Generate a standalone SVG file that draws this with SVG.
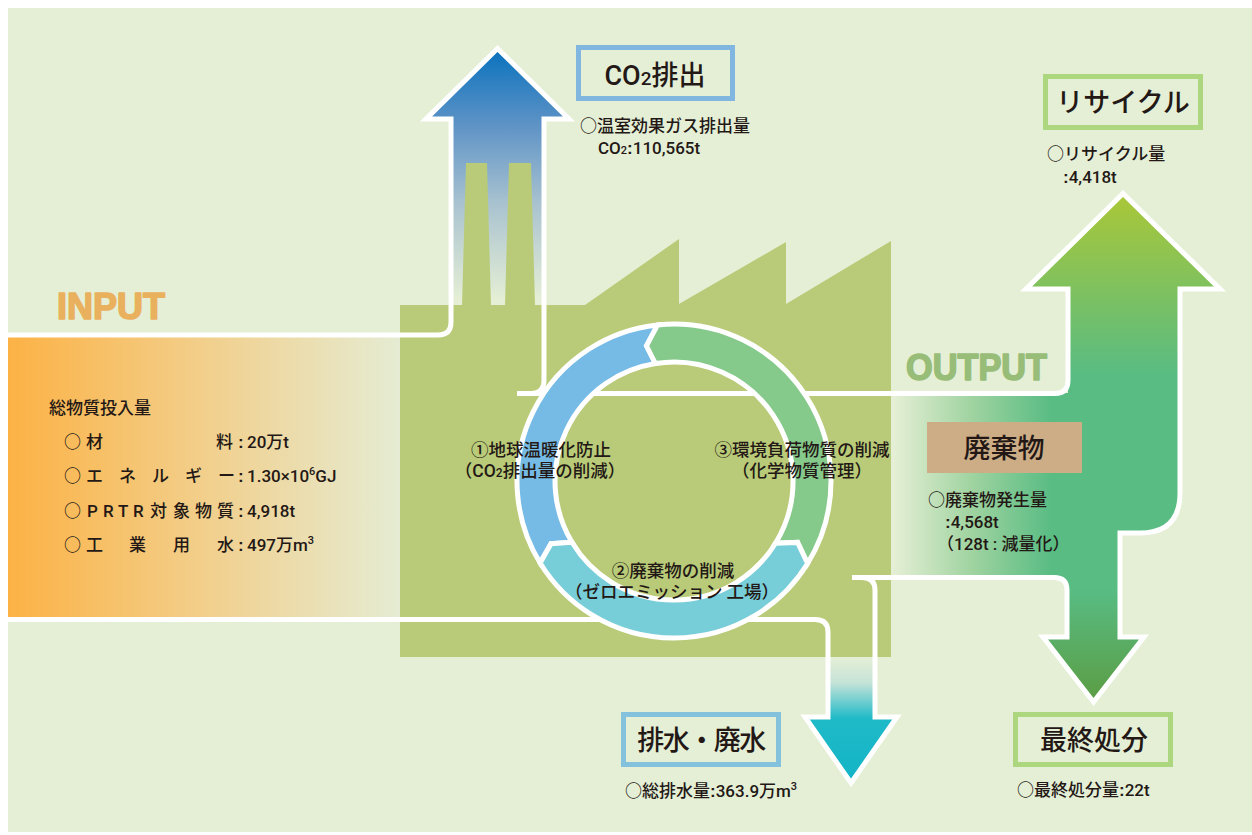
<svg xmlns="http://www.w3.org/2000/svg" width="1252" height="835" viewBox="0 0 1252 835">
  <defs>
    <linearGradient id="gInput" gradientUnits="userSpaceOnUse" x1="8" y1="0" x2="400" y2="0">
      <stop offset="0" stop-color="#fcb245"/>
      <stop offset="0.45" stop-color="#f3cc84"/>
      <stop offset="1" stop-color="#e5ecd3"/>
    </linearGradient>
    <linearGradient id="gCO2" gradientUnits="userSpaceOnUse" x1="0" y1="50" x2="0" y2="300">
      <stop offset="0" stop-color="#0a72bd"/>
      <stop offset="0.3" stop-color="#5e93c6"/>
      <stop offset="0.62" stop-color="#aac3d0"/>
      <stop offset="1" stop-color="#e5efd5"/>
    </linearGradient>
    <linearGradient id="gRecycle" gradientUnits="userSpaceOnUse" x1="0" y1="196" x2="0" y2="376">
      <stop offset="0" stop-color="#a9c738"/>
      <stop offset="1" stop-color="#58bc83"/>
    </linearGradient>
    <linearGradient id="gBand" gradientUnits="userSpaceOnUse" x1="893" y1="0" x2="1052" y2="0">
      <stop offset="0" stop-color="#e5efd5"/>
      <stop offset="0.5" stop-color="#9fd3a0"/>
      <stop offset="1" stop-color="#58bc83"/>
    </linearGradient>
    <linearGradient id="gLandfill" gradientUnits="userSpaceOnUse" x1="0" y1="590" x2="0" y2="700">
      <stop offset="0" stop-color="#58bc83"/>
      <stop offset="1" stop-color="#5b9d44"/>
    </linearGradient>
    <linearGradient id="gDrain" gradientUnits="userSpaceOnUse" x1="0" y1="657" x2="0" y2="785">
      <stop offset="0" stop-color="#e5efd5"/>
      <stop offset="0.2" stop-color="#c6e3d8"/>
      <stop offset="0.48" stop-color="#1fbac8"/>
      <stop offset="1" stop-color="#12b4c6"/>
    </linearGradient>
  </defs>
  <style>
    .jp{font-family:"Noto Sans CJK JP","Noto Sans CJK SC",sans-serif;fill:#231815}
    .la{font-family:Roboto,"Liberation Sans",Arial,sans-serif;font-weight:500}
    .t17{font-size:17px;font-weight:500}
    .t175{font-size:17.5px;font-weight:500}
    .title{font-size:27px;font-weight:500}
    .colon{font-family:"Liberation Sans",Arial,sans-serif;font-weight:bold}
    .line{fill:none;stroke:#ffffff;stroke-width:5;stroke-linejoin:miter}
    .seg{stroke:#ffffff;stroke-width:5;stroke-linejoin:miter}
    .boxBlue{fill:#e5efd5;stroke:#80b6df;stroke-width:5}
    .boxTeal{fill:#e5efd5;stroke:#84c1dc;stroke-width:5}
    .boxGreen{fill:#e5efd5;stroke:#add77f;stroke-width:5}
    .big{font-family:"Liberation Sans",Arial,sans-serif;font-weight:bold;font-size:36px;stroke-width:1.6;stroke-linejoin:round}
  </style>

  <!-- backdrop -->
  <rect x="8" y="8" width="1244" height="824" fill="#e5efd5"/>

  <!-- input stream band -->
  <rect x="8" y="337" width="392" height="281" fill="url(#gInput)"/>

  <!-- CO2 arrow body -->
  <path d="M451,335 V119 H426 L497.5,48.5 L569,119 H544 V335 Z" fill="url(#gCO2)"/>

  <!-- factory silhouette -->
  <g id="factory" fill="#b9cb78">
    <path d="M400,305 H585 L679,239 V304 L786,242 V304 L891,241 V657 H400 Z"/>
    <polygon points="466,163 487,163 491,306 462,306"/>
    <polygon points="509,163 531,163 535,306 505,306"/>
  </g>

  <!-- output stream fills -->
  <g id="output-fills">
    <path d="M891,393 H1070 V590 H1067 Q1067,577 1054,577 H891 Z" fill="url(#gBand)"/>
    <path d="M1068,395 V289 H1026 L1123,193.5 L1220,289 H1180 V493 Q1180,533 1140,533 H1120 V592 H1068 Z" fill="url(#gRecycle)"/>
    <path d="M1067,588 H1120 V637 H1144 L1093.5,702 L1043,637 H1067 Z" fill="url(#gLandfill)"/>
    <path d="M828,657 H875 V717 H897 L851,783 L805,717 H828 Z" fill="url(#gDrain)"/>
  </g>

  <!-- flow outlines -->
  <g id="connectors">
    <path class="line" d="M8,335 H438 Q451,335 451,322 V119 H426 L497.5,48.5 L569,119 H544 V380 Q544,393.5 531,393.5 H517"/>
    <path class="line" d="M517,393.5 H1055 Q1068,393.5 1068,380 V289 H1026 L1123,193.5 L1220,289 H1180 V493 Q1180,533 1140,533 H1120 V637 H1144 L1093.5,702 L1043,637 H1067 V590 Q1067,577.5 1054,577.5 H852"/>
    <path class="line" d="M852,577.5 H862 Q875,577.5 875,590 V717 H897 L851,783 L805,717 H828 V632 Q828,619.5 815,619.5 H8"/>
  </g>

  <!-- improvement cycle ring -->
  <g id="ring">
    <path class="seg" fill="#75bbe6" d="M540.1,563 A157,157 0 0 1 657.6,324.9 L646.5,345.8 L655.4,363.5 A119,119 0 0 0 572,542.3 L551,543.7 Z"/>
    <path class="seg" fill="#85c98b" d="M657.6,324.9 A157,157 0 0 1 807.6,563.5 L797.6,542.4 L775.5,543.2 A119,119 0 0 0 655.4,363.5 L646.5,345.8 Z"/>
    <path class="seg" fill="#77cdd8" d="M807.6,563.5 A157,157 0 0 1 540.1,563 L551,543.7 L572,542.3 A119,119 0 0 0 775.5,543.2 L797.6,542.4 Z"/>
  </g>

  <g id="ring-labels" class="jp t175" text-anchor="middle">
    <text><tspan x="541" y="456">①地球温暖化防止</tspan><tspan x="540" y="477">（<tspan class="la">CO</tspan><tspan class="la" font-size="12">2</tspan>排出量の削減）</tspan></text>
    <text><tspan x="802" y="456">③環境負荷物質の削減</tspan><tspan x="802" y="477">（化学物質管理）</tspan></text>
    <text><tspan x="673" y="577">②廃棄物の削減</tspan><tspan x="672" y="598">（ゼロエミッション 工場）</tspan></text>
  </g>

  <!-- headings -->
  <text x="57" y="319" class="big" fill="#e9b15e" stroke="#e9b15e" textLength="108" lengthAdjust="spacingAndGlyphs">INPUT</text>
  <text x="906" y="380" class="big" fill="#98bd78" stroke="#98bd78" textLength="141" lengthAdjust="spacingAndGlyphs">OUTPUT</text>

  <!-- input quantities -->
  <g id="input" class="jp t17">
    <text x="49" y="414">総物質投入量</text>
    <text y="448"><tspan x="64">○</tspan><tspan x="86">材</tspan><tspan x="216">料</tspan><tspan x="238" class="colon">:</tspan><tspan x="247" class="la">20</tspan>万<tspan class="la">t</tspan></text>
    <text y="482"><tspan x="64">○</tspan><tspan x="86">エ</tspan><tspan x="119">ネ</tspan><tspan x="152">ル</tspan><tspan x="185">ギ</tspan><tspan x="218">ー</tspan><tspan x="238" class="colon">:</tspan><tspan x="247" class="la">1.30×10<tspan font-size="11" dy="-7">6</tspan><tspan dy="7">GJ</tspan></tspan></text>
    <text y="517"><tspan x="64">○</tspan><tspan x="87 103 118 133" class="la" font-weight="bold">PRTR</tspan><tspan x="150">対</tspan><tspan x="173">象</tspan><tspan x="195">物</tspan><tspan x="217">質</tspan><tspan x="238" class="colon">:</tspan><tspan x="247" class="la">4,918t</tspan></text>
    <text y="551"><tspan x="64">○</tspan><tspan x="86">工</tspan><tspan x="129">業</tspan><tspan x="173">用</tspan><tspan x="217">水</tspan><tspan x="238" class="colon">:</tspan><tspan x="247" class="la">497</tspan>万<tspan class="la">m<tspan font-size="11" dy="-7">3</tspan></tspan></text>
  </g>

  <!-- CO2 emission -->
  <g id="co2">
    <rect class="boxBlue" x="578.5" y="47.5" width="154" height="51"/>
    <text x="655" y="85" text-anchor="middle" class="jp title"><tspan class="la">CO</tspan><tspan class="la" font-size="19">2</tspan>排出</text>
    <text x="580" y="132" class="jp t17">○温室効果ガス排出量</text>
    <text x="598" y="154" class="jp t17"><tspan class="la">CO</tspan><tspan class="la" font-size="11">2</tspan><tspan class="colon">:</tspan><tspan class="la">110,565t</tspan></text>
  </g>

  <!-- recycling -->
  <g id="recycle">
    <rect class="boxGreen" x="1045.5" y="76.5" width="155" height="51"/>
    <text x="1123" y="112" text-anchor="middle" class="jp title">リサイクル</text>
    <text x="1047" y="160" class="jp t17">○リサイクル量</text>
    <text x="1063" y="183" class="jp t17"><tspan class="colon">:</tspan><tspan class="la">4,418t</tspan></text>
  </g>

  <!-- waste -->
  <g id="waste">
    <rect x="927" y="422" width="155" height="51" fill="#cdad86"/>
    <text x="1004" y="458" text-anchor="middle" class="jp title">廃棄物</text>
    <text x="928" y="506" class="jp t17">○廃棄物発生量</text>
    <text x="945" y="528" class="jp t17"><tspan class="colon">:</tspan><tspan class="la">4,568t</tspan></text>
    <text x="937" y="550" class="jp t17">（<tspan class="la">128t : </tspan>減量化）</text>
  </g>

  <!-- final disposal -->
  <g id="landfill">
    <rect class="boxGreen" x="1015.5" y="714.5" width="155" height="50"/>
    <text x="1094" y="750" text-anchor="middle" class="jp title">最終処分</text>
    <text x="1017" y="796" class="jp t17">○最終処分量<tspan class="colon">:</tspan><tspan class="la">22t</tspan></text>
  </g>

  <!-- wastewater -->
  <g id="drain">
    <rect class="boxTeal" x="623.5" y="714.5" width="155" height="50"/>
    <text x="701" y="750" text-anchor="middle" class="jp title" letter-spacing="-1.5">排水・廃水</text>
    <text x="625" y="797" class="jp t17">○総排水量<tspan class="colon">:</tspan><tspan class="la">363.9</tspan>万<tspan class="la">m<tspan font-size="11" dy="-7">3</tspan></tspan></text>
  </g>
</svg>
